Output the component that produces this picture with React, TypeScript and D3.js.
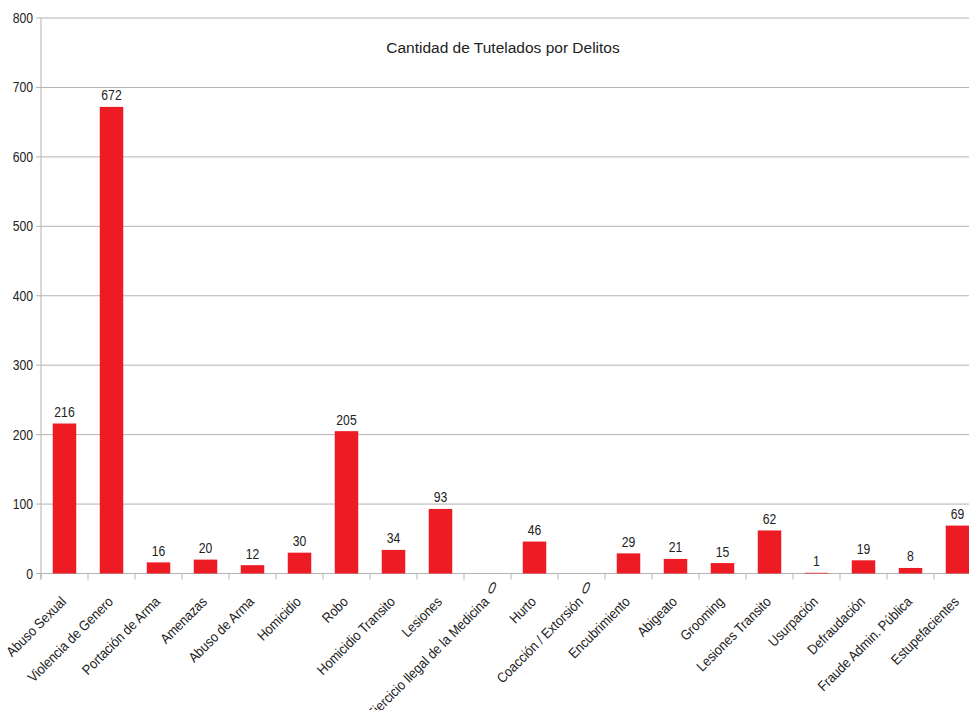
import React from "react";
import * as d3 from "d3";

const categories = [
  "Abuso Sexual", "Violencia de Genero", "Portación de Arma", "Amenazas", "Abuso de Arma",
  "Homicidio", "Robo", "Homicidio Transito", "Lesiones", "Ejercicio Ilegal de la Medicina",
  "Hurto", "Coacción / Extorsión", "Encubrimiento", "Abigeato", "Grooming",
  "Lesiones Transito", "Usurpación", "Defraudación", "Fraude Admin. Pública", "Estupefacientes",
];
const values = [216, 672, 16, 20, 12, 30, 205, 34, 93, 0, 46, 0, 29, 21, 15, 62, 1, 19, 8, 69];
const yTicks = [0, 100, 200, 300, 400, 500, 600, 700, 800];
const title = "Cantidad de Tutelados por Delitos";

const W = 969;
const H = 710;
const left = 41;
const step = 47;
const top = 18;
const bottom = 573.5;
const font = "'Liberation Sans', Arial, sans-serif";
const sx = 0.87;
const lsx = 0.9;

export default function App() {
  const x = d3
    .scaleBand<string>()
    .domain(categories)
    .range([left, left + step * categories.length])
    .paddingInner(0.5)
    .paddingOuter(0.25);
  const y = d3.scaleLinear().domain([0, 800]).range([bottom, top]);
  const grid = "#b3b3b3";
  const bandEdges = d3.range(categories.length + 1).map((i) => left + i * step);

  return (
    <svg
      width={W}
      height={H}
      style={{ position: "absolute", left: 0, top: 0, background: "#fff" }}
      fontFamily={font}
    >
      <rect x={0} y={0} width={W} height={H} fill="#fff" />
      {yTicks.map((t) => (
        <g key={t}>
          <line x1={left - 5} x2={W} y1={y(t)} y2={y(t)} stroke={grid} strokeWidth={1} />
          <text
            transform={`translate(33,${y(t)}) scale(${sx},1)`}
            dy="0.36em"
            textAnchor="end"
            fontSize={14}
            fill="#222"
          >
            {t}
          </text>
        </g>
      ))}
      <line x1={left} x2={left} y1={top} y2={bottom + 6} stroke={grid} strokeWidth={1} />
      {bandEdges.map((bx, i) => (
        <line key={i} x1={bx} x2={bx} y1={bottom} y2={bottom + 6} stroke={grid} strokeWidth={1} />
      ))}
      {categories.map((c, i) => {
        const v = values[i];
        const bx = x(c)!;
        const cx = bx + x.bandwidth() / 2;
        const zero = v === 0;
        const lx = cx + (zero ? 3 : 0);
        const ly = zero ? bottom + 20 : y(v) - 6.5;
        return (
          <g key={c}>
            <rect x={bx} y={y(v)} width={x.bandwidth()} height={bottom - y(v)} fill="#ed1c24" />
            <text
              transform={`translate(${cx + 2.5},${bottom + 29}) rotate(-45) scale(${lsx},1)`}
              textAnchor="end"
              fontSize={14}
              fill="#222"
            >
              {c}
            </text>
            <text
              transform={
                zero
                  ? `translate(${lx},${ly}) rotate(15) scale(${sx},1.2)`
                  : `translate(${lx},${ly}) scale(${sx},1)`
              }
              textAnchor="middle"
              fontSize={14}
              fontStyle={zero ? "italic" : "normal"}
              fill="#222"
            >
              {v}
            </text>
          </g>
        );
      })}
      <text x={503} y={53} textAnchor="middle" fontSize={15.5} fill="#222">
        {title}
      </text>
    </svg>
  );
}
